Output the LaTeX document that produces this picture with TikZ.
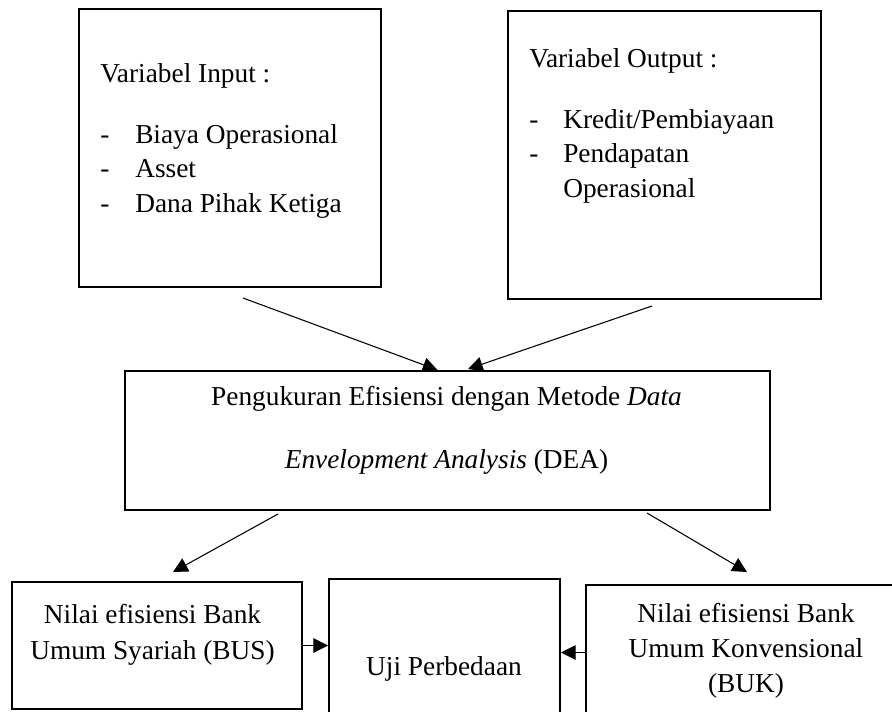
\documentclass[tikz,border=0pt]{standalone}
\usepackage{fontspec}
\setmainfont{Liberation Serif}
\usetikzlibrary{arrows.meta,calc}
\begin{document}
\begin{tikzpicture}[x=0.75pt,y=-0.75pt,
  box/.style={draw,line width=1.5pt,rectangle,inner sep=0pt},
  txt/.style={inner sep=0pt,font=\fontsize{20.5}{25}\selectfont},
  arr/.style={line width=0.8pt,-{Triangle[length=11pt,width=11pt]}}]
\useasboundingbox (0,0) rectangle (892,711);
\fill[white] (0,0) rectangle (892,711);
% boxes
\node[box,minimum width=226.5pt,minimum height=208.5pt] (in)  at (230,148) {};
\node[box,minimum width=234.75pt,minimum height=216pt] (out) at (664.5,155) {};
\node[box,minimum width=483.75pt,minimum height=104.25pt] (mid) at (447.5,440.5) {};
\node[box,minimum width=217.5pt,minimum height=95.25pt] (bus) at (157,645.5) {};
\node[box,minimum width=173.25pt,minimum height=105.75pt] (uji) at (444.5,649.5) {};
\node[box,minimum width=240pt,minimum height=101.25pt] (buk) at (746,652.5) {};
% input texts
\node[txt,anchor=base west] (inT) at (100,82) {Variabel Input :};
\node[txt,anchor=base west] (inD1) at (100,143) {-};
\node[txt,anchor=base west] (inI1) at (135,143) {Biaya Operasional};
\node[txt,anchor=base west] (inD2) at (100,177.5) {-};
\node[txt,anchor=base west] (inI2) at (135,177.5) {Asset};
\node[txt,anchor=base west] (inD3) at (100,212) {-};
\node[txt,anchor=base west] (inI3) at (135,212) {Dana Pihak Ketiga};
% output texts
\node[txt,anchor=base west] (outT) at (529,67) {Variabel Output :};
\node[txt,anchor=base west] (outD1) at (529,128) {-};
\node[txt,anchor=base west] (outI1) at (563,128) {Kredit/Pembiayaan};
\node[txt,anchor=base west] (outD2) at (529,162.5) {-};
\node[txt,anchor=base west] (outI2) at (563,162.5) {Pendapatan};
\node[txt,anchor=base west] (outI3) at (563,197) {Operasional};
% middle texts
\node[txt,anchor=base] (midL1) at (446.5,405) {Pengukuran Efisiensi dengan Metode \textit{Data}};
\node[txt,anchor=base] (midL2) at (446.5,468) {\textit{Envelopment Analysis} (DEA)};
% bottom texts
\node[txt,anchor=base] (busL1) at (152.5,623) {Nilai efisiensi Bank};
\node[txt,anchor=base] (busL2) at (152.5,659) {Umum Syariah (BUS)};
\node[txt,anchor=base] (ujiL) at (444,675) {Uji Perbedaan};
\node[txt,anchor=base] (bukL1) at (746,622) {Nilai efisiensi Bank};
\node[txt,anchor=base] (bukL2) at (746,657) {Umum Konvensional};
\node[txt,anchor=base] (bukL3) at (746,692) {(BUK)};
% connectors
\draw[arr] ([shift={(13,10)}]in.south) -- ([shift={(-10,0)}]mid.north);
\draw[arr] ([shift={(-12.5,6)}]out.south) -- ([shift={(20.5,-1)}]mid.north);
\draw[arr] ([shift={(-169.5,3)}]mid.south) -- ([shift={(16,-9)}]bus.north);
\draw[arr] ([shift={(199.5,2)}]mid.south) -- ([shift={(1,-12)}]buk.north);
\draw[arr] (bus.east) -- (bus.east -| uji.west);
\draw[arr] (buk.west) -- (buk.west -| uji.east);
\end{tikzpicture}
\end{document}
